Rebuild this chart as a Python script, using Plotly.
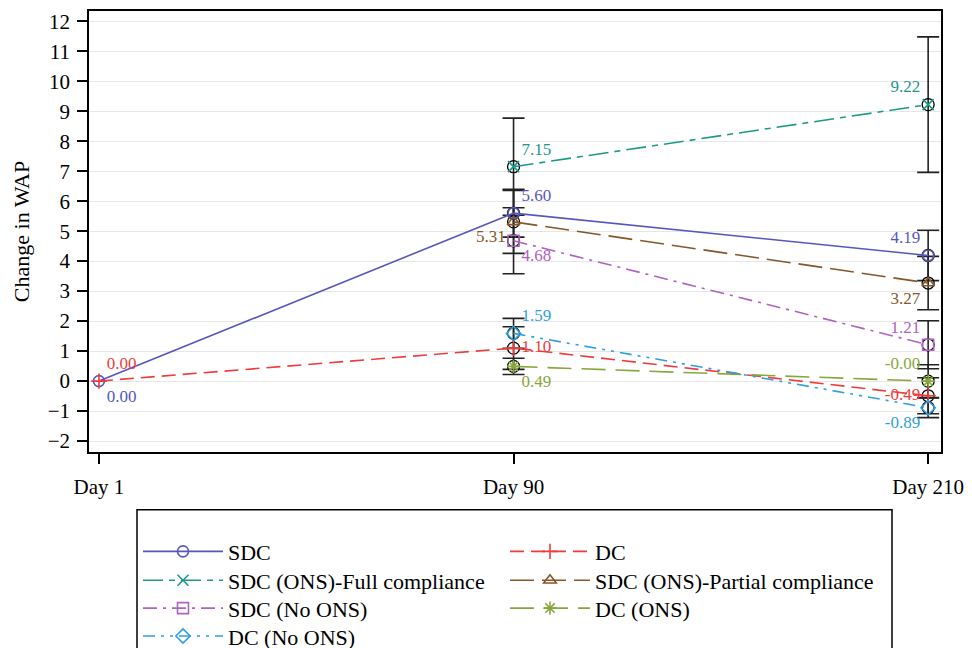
import plotly.graph_objects as go

days = ["Day 1", "Day 90", "Day 210"]

series_names = ["SDC", "DC", "SDC (ONS)-Full compliance", "SDC (ONS)-Partial compliance",
                "SDC (No ONS)", "DC (ONS)", "DC (No ONS)"]

sdc_x = ["Day 1", "Day 90", "Day 210"]
sdc_y = [0.00, 5.60, 4.19]
sdc_err = [None, 0.80, 0.84]

dc_x = ["Day 1", "Day 90", "Day 210"]
dc_y = [0.00, 1.10, -0.49]
dc_err = [None, 0.71, 0.60]

full_x = ["Day 90", "Day 210"]
full_y = [7.15, 9.22]
full_err = [1.62, 2.26]

partial_x = ["Day 90", "Day 210"]
partial_y = [5.31, 3.27]
partial_err = [1.05, 0.89]

nons_x = ["Day 90", "Day 210"]
nons_y = [4.68, 1.21]
nons_err = [1.10, 0.80]

dcons_x = ["Day 90", "Day 210"]
dcons_y = [0.49, -0.003]
dcons_err = [0.27, 0.55]

dcnons_x = ["Day 90", "Day 210"]
dcnons_y = [1.59, -0.89]
dcnons_err = [0.50, 0.33]

yticks = list(range(-2, 13))

FONT = '"Liberation Serif", "Times New Roman", Times, serif'

# the page has an 8px body margin; figure coordinates are offset accordingly
W, H = 964, 700
ML, MR, MT, MB = 81, 31, 1, 256
PW = W - ML - MR
PH = H - MT - MB

def px_x(page_x):
    return (page_x - 8 - ML) / PW

def px_y(page_y):
    return (H - MB - (page_y - 8)) / PH

styles = [
    (series_names[0], sdc_x, sdc_y, sdc_err, "#5656C2", "solid", "circle-open",
     ["bottom right", "top right", "top left"], "legend", (138, 552)),
    (series_names[1], dc_x, dc_y, dc_err, "#F23A3A", "14px,7px", "cross-thin-open",
     ["top right", "middle right", "middle left"], "legend2", (505, 552)),
    (series_names[2], full_x, full_y, full_err, "#1A9988", "20px,6px,6px,6px", "x-thin-open",
     ["top right", "top left"], "legend3", (138, 581)),
    (series_names[3], partial_x, partial_y, partial_err, "#87562B", "24px,8px", "triangle-up-open",
     ["bottom left", "bottom left"], "legend4", (505, 581)),
    (series_names[4], nons_x, nons_y, nons_err, "#AE62C2", "14px,6px,3px,6px", "square-open",
     ["bottom right", "top left"], "legend5", (138, 609)),
    (series_names[5], dcons_x, dcons_y, dcons_err, "#86A83A", "24px,10px", "asterisk-open",
     ["bottom right", "top left"], "legend6", (505, 609)),
    (series_names[6], dcnons_x, dcnons_y, dcnons_err, "#2E9FE0", "12px,6px,3px,6px,3px,6px", "diamond-open",
     ["top right", "bottom left"], "legend7", (138, 637)),
]

fig = go.Figure()

for name, xs, ys, errs, color, dash, sym, tpos, lg, lpos in styles:
    ex = [x for x, e in zip(xs, errs) if e is not None]
    ey = [y for y, e in zip(ys, errs) if e is not None]
    ee = [e for e in errs if e is not None]
    fig.add_trace(go.Scatter(
        x=ex, y=ey, mode="markers", showlegend=False, hoverinfo="skip",
        marker=dict(symbol="circle-open", size=12, color="black", line=dict(width=1.3)),
        error_y=dict(type="data", array=ee, visible=True, color="#222222", thickness=1.6, width=11),
    ))

legends = {}
for name, xs, ys, errs, color, dash, sym, tpos, lg, lpos in styles:
    fig.add_trace(go.Scatter(
        x=xs, y=ys, name=name, mode="lines+markers+text",
        line=dict(color=color, width=1.6, dash=dash),
        marker=dict(symbol=sym, size=11, color=color, line=dict(width=1.6, color=color)),
        text=["%.2f" % v for v in ys], textposition=tpos,
        textfont=dict(family=FONT, size=17, color=color),
        legend=lg,
    ))
    legends[lg] = dict(x=px_x(lpos[0]), y=px_y(lpos[1]), xanchor="left", yanchor="middle",
                       orientation="v", font=dict(family=FONT, size=22, color="black"),
                       itemwidth=80, bgcolor="rgba(0,0,0,0)", borderwidth=0)

fig.update_layout(
    width=W, height=H,
    margin=dict(l=ML, r=MR, t=MT, b=MB),
    paper_bgcolor="white", plot_bgcolor="white",
    font=dict(family=FONT, size=21, color="black"),
    xaxis=dict(type="category", categoryarray=days, categoryorder="array",
               range=[-0.024, 2.031], showline=True, linecolor="black", linewidth=1.5,
               mirror=True, ticks="outside", ticklen=10, tickwidth=1.5, tickcolor="black",
               showgrid=False, zeroline=False, tickfont=dict(family=FONT, size=21),
               ticklabelstandoff=5),
    yaxis=dict(range=[-2.365, 12.342], tickvals=yticks, showline=True, linecolor="black",
               linewidth=1.5, mirror=True, ticks="outside", ticklen=10, tickwidth=1.5,
               tickcolor="black", showgrid=True, gridcolor="#E6E6E6", gridwidth=1,
               zeroline=False, tickfont=dict(family=FONT, size=21), ticklabelstandoff=3,
               title=dict(text="Change in WAP", font=dict(family=FONT, size=22), standoff=12)),
    shapes=[dict(type="rect", xref="paper", yref="paper", x0=px_x(137), x1=px_x(892),
                 y0=px_y(510), y1=px_y(740), line=dict(color="black", width=1.5), layer="above")],
    showlegend=True,
    **legends,
)

fig.write_html("out.html")
